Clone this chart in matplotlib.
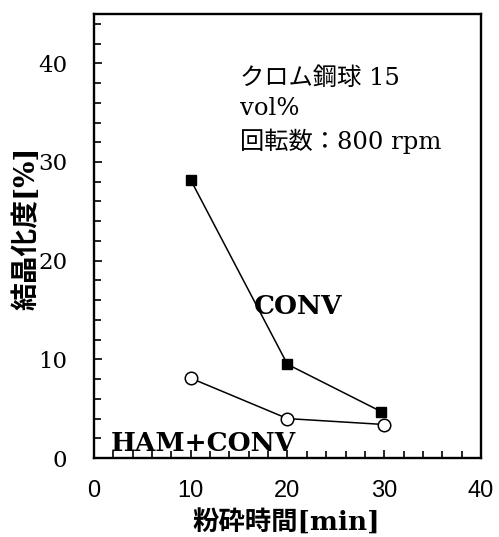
import matplotlib
matplotlib.use("Agg")
import matplotlib.pyplot as plt
from matplotlib.ticker import MultipleLocator

# Data
time_conv = [10, 20, 29.7]
cryst_conv = [28.2, 9.5, 4.7]
time_ham = [10, 20, 30]
cryst_ham = [8.1, 4.0, 3.4]

xlabel = "粉砕時間[min]"
ylabel = "結晶化度[%]"
note = "クロム鋼球 15\nvol%\n回転数：800 rpm"

fig = plt.figure(figsize=(4.99, 5.37), dpi=100)
ax = fig.add_axes([0.188, 0.147, 0.776, 0.827])

ax.plot(time_conv, cryst_conv, color="black", lw=1.1, marker="s", ms=6.5,
        mfc="black", mec="black")
ax.plot(time_ham, cryst_ham, color="black", lw=1.1, marker="o", ms=9,
        mfc="white", mec="black", mew=1.1)

ax.set_xlim(0, 40)
ax.set_ylim(0, 45)
ax.xaxis.set_major_locator(MultipleLocator(10))
ax.xaxis.set_minor_locator(MultipleLocator(2))
ax.yaxis.set_major_locator(MultipleLocator(10))
ax.yaxis.set_minor_locator(MultipleLocator(2))
ax.tick_params(which="both", direction="in", width=1.2, color="black")
ax.tick_params(which="major", length=6)
ax.tick_params(which="minor", length=5)
ax.tick_params(axis="x", which="major", pad=16)
ax.tick_params(axis="y", which="major", pad=19)
for s in ax.spines.values():
    s.set_linewidth(1.7)

for lbl in ax.get_xticklabels():
    lbl.set_fontfamily("Liberation Sans")
    lbl.set_fontsize(17)
for lbl in ax.get_yticklabels():
    lbl.set_fontfamily("DejaVu Serif")
    lbl.set_fontsize(16.5)

ax.set_xlabel(xlabel, fontsize=19, fontweight="bold", va="center",
              family=["DejaVu Serif", "Noto Sans CJK JP"])
ax.set_ylabel(ylabel, fontsize=20, fontweight="bold", va="center",
              family=["DejaVu Serif", "Noto Sans CJK JP"])
ax.xaxis.set_label_coords(0.496, -0.146)
ax.yaxis.set_label_coords(-0.172, 0.518)

ax.text(15.1, 35.2, note, fontsize=17.5, family=["DejaVu Serif", "Noto Sans CJK JP"],
        va="center", ha="left", linespacing=1.42)
ax.text(16.5, 15.4, "CONV", fontsize=19, fontweight="bold", family="DejaVu Serif",
        va="center", ha="left")
ax.text(1.8, 1.45, "HAM+CONV", fontsize=19, fontweight="bold", family="DejaVu Serif",
        va="center", ha="left")

fig.savefig("out.png", dpi=100)
